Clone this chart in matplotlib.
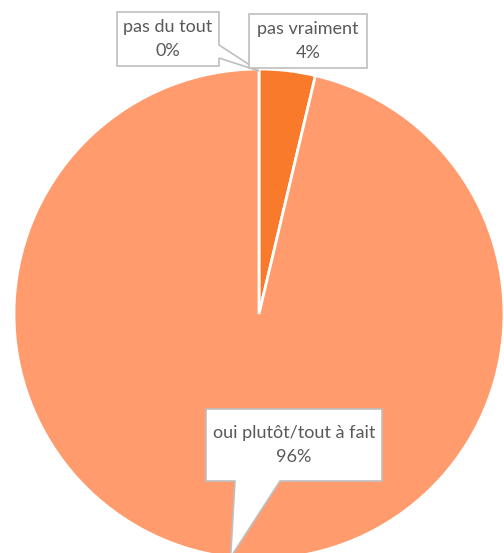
import numpy as np
import matplotlib
matplotlib.use("Agg")
import matplotlib.pyplot as plt
from matplotlib.patches import Polygon

categories = ["pas du tout", "pas vraiment", "oui plutôt/tout à fait"]
values = [0.0, 3.7, 96.3]
colors = ["#F26B21", "#F97A2A", "#FF9B6C"]

W, H = 504, 553
fig = plt.figure(figsize=(W / 100, H / 100), dpi=100)
ax = fig.add_axes([0, 0, 1, 1])

cx, cy, R = 259, 314, 245  # image coords
wedges, _ = ax.pie(values, colors=colors, startangle=90, counterclock=False,
                   radius=R, center=(cx, H - cy),
                   wedgeprops=dict(edgecolor="white", linewidth=2))
ax.set_xlim(0, W)
ax.set_ylim(0, H)
ax.set_aspect("equal")
ax.axis("off")

total = sum(values)
def anchor(i, r=R):
    start = sum(values[:i]) / total
    mid = start + values[i] / total / 2
    ang = 2 * np.pi * mid  # clockwise from top
    return cx + r * np.sin(ang), cy - r * np.cos(ang)

def callout(box, tail=None, apex=None, text=""):
    x0, y0, x1, y1 = box
    if tail is None:
        pts = [(x0, y0), (x1, y0), (x1, y1), (x0, y1)]
    elif tail[0] == "right":
        ya, yb = tail[1], tail[2]
        pts = [(x0, y0), (x1, y0), (x1, ya), apex, (x1, yb), (x1, y1), (x0, y1)]
    elif tail[0] == "bottom":
        xa, xb = tail[1], tail[2]
        pts = [(x0, y0), (x1, y0), (x1, y1), (xb, y1), apex, (xa, y1), (x0, y1)]
    pts = [(px, H - py) for px, py in pts]
    ax.add_patch(Polygon(pts, closed=True, facecolor="white", edgecolor="#BFBFBF",
                         linewidth=1.2, zorder=5, clip_on=False))
    ax.text((x0 + x1) / 2, H - (y0 + y1) / 2, text, ha="center", va="center",
            fontsize=13, color="#595959", family=["Lato", "DejaVu Sans"],
            linespacing=1.55, zorder=6)

pcts = [f"{round(v / total * 100):.0f}%" for v in values]

callout((117, 12, 219, 66), ("right", 45, 58), anchor(0, R - 2),
        f"{categories[0]}\n{pcts[0]}")
callout((249, 14, 367, 68), None, None, f"{categories[1]}\n{pcts[1]}")
callout((206, 409, 382, 481), ("bottom", 235, 280), anchor(2),
        f"{categories[2]}\n{pcts[2]}")

fig.savefig("out.png", dpi=100)
